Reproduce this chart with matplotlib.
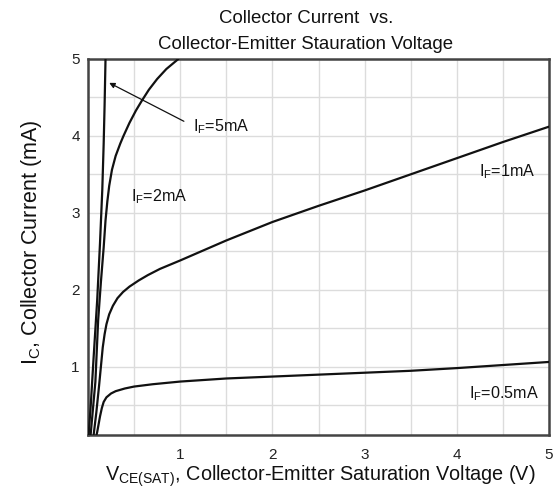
import matplotlib
matplotlib.use("Agg")
import matplotlib.pyplot as plt
from matplotlib.ticker import MultipleLocator

plt.rcParams['font.family'] = ['Liberation Sans', 'DejaVu Sans']
plt.rcParams['mathtext.fontset'] = 'custom'
plt.rcParams['mathtext.rm'] = 'Liberation Sans'
plt.rcParams['mathtext.it'] = 'Liberation Sans'

# V_CE(SAT) (V) vs I_C (mA), one curve per forward current
vce_5ma = [0.0, 0.03, 0.06, 0.1, 0.13, 0.155, 0.17, 0.18, 0.19]
ic_5ma = [0.0, 0.5, 1.1, 1.87, 2.6, 3.3, 3.9, 4.4, 5.0]

vce_2ma = [0.02, 0.05, 0.08, 0.11, 0.14, 0.17, 0.19, 0.21, 0.23, 0.26, 0.30,
           0.35, 0.385, 0.45, 0.52, 0.58, 0.66, 0.75, 0.85, 0.98]
ic_2ma = [0.0, 0.4, 0.8, 1.6, 2.1, 2.55, 2.9, 3.15, 3.35, 3.56, 3.74,
          3.9, 4.0, 4.17, 4.33, 4.45, 4.6, 4.74, 4.87, 5.0]

vce_1ma = [0.05, 0.09, 0.12, 0.14, 0.16, 0.18, 0.2, 0.23, 0.27, 0.32, 0.38, 0.45,
           0.55, 0.65, 0.78, 0.9, 1.0, 1.5, 2.0, 2.5, 3.0, 3.5, 4.0, 4.5, 5.0]
ic_1ma = [0.0, 0.4, 0.75, 1.0, 1.25, 1.42, 1.55, 1.68, 1.79, 1.89, 1.97, 2.04,
          2.12, 2.19, 2.27, 2.33, 2.38, 2.64, 2.88, 3.09, 3.29, 3.50, 3.71, 3.92, 4.12]

vce_05ma = [0.07, 0.1, 0.13, 0.15, 0.17, 0.2, 0.25, 0.3, 0.4, 0.5, 0.7, 1.0,
            1.5, 2.0, 2.5, 3.0, 3.5, 4.0, 4.5, 5.0]
ic_05ma = [0.0, 0.15, 0.35, 0.46, 0.54, 0.6, 0.65, 0.68, 0.715, 0.74, 0.77, 0.805,
           0.845, 0.87, 0.895, 0.92, 0.945, 0.98, 1.02, 1.06]

ticks = [1, 2, 3, 4, 5]

fig = plt.figure(figsize=(5.56, 4.90), dpi=100)
ax = fig.add_axes([88 / 556, 1 - 435 / 490, 461 / 556, 376 / 490])

for x, y in [(vce_5ma, ic_5ma), (vce_2ma, ic_2ma), (vce_1ma, ic_1ma), (vce_05ma, ic_05ma)]:
    ax.plot(x, y, color='#111111', lw=1.6, solid_capstyle='round',
            solid_joinstyle='round', zorder=3)

ax.set_xlim(0, 5)
ax.set_ylim(0.11, 5)
ax.set_xticks(ticks)
ax.set_yticks(ticks)
ax.xaxis.set_minor_locator(MultipleLocator(0.5))
ax.yaxis.set_minor_locator(MultipleLocator(0.5))
ax.grid(which='both', color='#dcdcdc', lw=1.0, zorder=0)
ax.tick_params(which='both', length=0, labelsize=11, colors='#222222')
ax.tick_params(axis='x', pad=9)
ax.tick_params(axis='y', pad=6)
for s in ax.spines.values():
    s.set_color('#444444')
    s.set_linewidth(1.8)

# curve labels
ax.annotate('', xy=(0.23, 4.69), xytext=(1.04, 4.19),
            arrowprops=dict(arrowstyle='-|>', color='#111111', lw=0.9,
                            mutation_scale=8, shrinkA=0, shrinkB=0))
lab = dict(fontsize=11.6, color='#111111', va='center', ha='left')
ax.text(1.14, 4.12, r'I$_\mathrm{F}$=5mA', **lab)
ax.text(0.465, 3.21, r'I$_\mathrm{F}$=2mA', **lab)
ax.text(4.24, 3.54, r'I$_\mathrm{F}$=1mA', **lab)
ax.text(4.13, 0.65, r'I$_\mathrm{F}$=0.5mA', **lab)

fig.text(306 / 556, 1 - 23 / 490, 'Collector Current  vs.', ha='center',
         va='baseline', fontsize=13.4, color='#111111')
fig.text(306 / 556, 1 - 49 / 490, 'Collector-Emitter Stauration Voltage', ha='center',
         va='baseline', fontsize=13.4, color='#111111')

fig.text(32 / 556, 1 - 242 / 490, r'I$_\mathrm{C}$, Collector Current (mA)', rotation=90,
         ha='center', va='center', fontsize=15.5, color='#111111')
fig.text(320 / 556, 1 - 481 / 490, r'V$_\mathrm{CE(SAT)}$, Collector-Emitter Saturation Voltage (V)',
         ha='center', va='baseline', fontsize=14.3, color='#111111')

fig.savefig('out.png', dpi=100)
